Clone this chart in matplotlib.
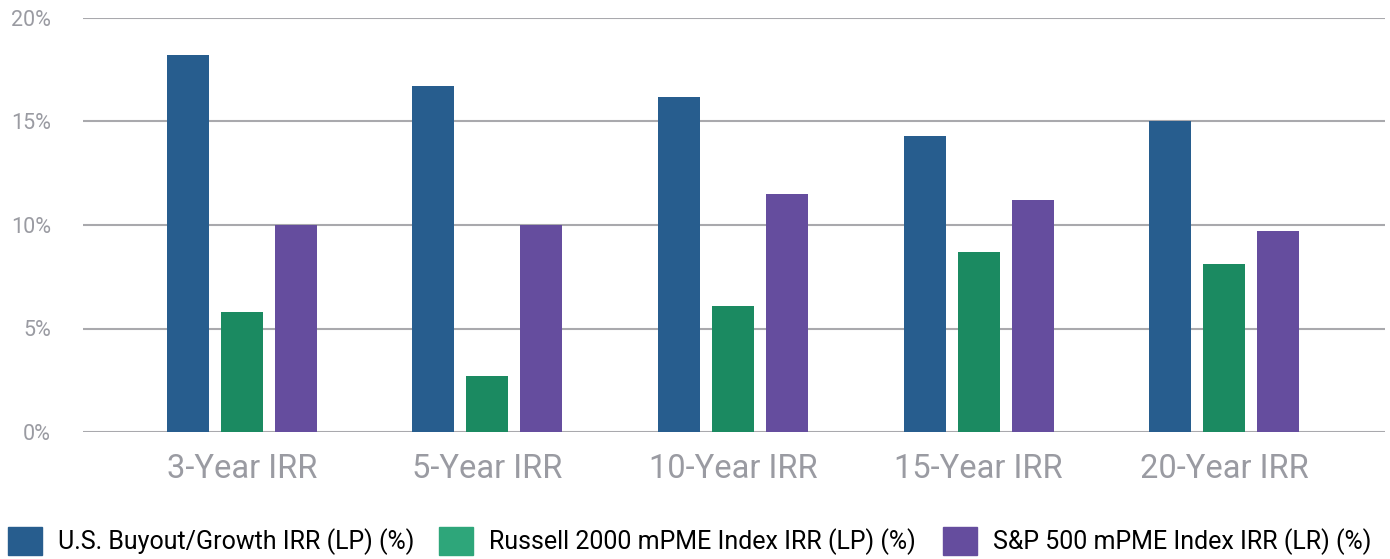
import matplotlib.pyplot as plt
import numpy as np
from matplotlib.patches import Patch

periods = ["3-Year IRR", "5-Year IRR", "10-Year IRR", "15-Year IRR", "20-Year IRR"]
buyout = [18.2, 16.7, 16.2, 14.3, 15.0]
russell = [5.8, 2.7, 6.1, 8.7, 8.1]
sp500 = [10.0, 10.0, 11.5, 11.2, 9.7]
series_names = ["U.S. Buyout/Growth IRR (LP) (%)",
                "Russell 2000 mPME Index IRR (LP) (%)",
                "S&P 500 mPME Index IRR (LR) (%)"]
yticks = [0, 5, 10, 15, 20]

blue = "#275d8e"
green = "#1b8a61"
purple = "#654d9e"
legend_green = "#2ea67a"
grid_c = "#a9a9ad"
label_c = "#9a9ba2"

fig = plt.figure(figsize=(13.9, 5.59), dpi=100)
ax = fig.add_axes([83 / 1390, 1 - 432 / 559, (1385 - 83) / 1390, (432 - 18) / 559])

x = np.arange(len(periods))
w = 0.171
off = 0.22
ax.bar(x - off, buyout, w, color=blue, zorder=3)
ax.bar(x, russell, w, color=green, zorder=3)
ax.bar(x + off, sp500, w, color=purple, zorder=3)

ax.set_xlim(-0.647, 4.655)
ax.set_ylim(0, 20)
ax.set_yticks(yticks)
ax.set_yticklabels([f"{v}%" for v in yticks])
ax.set_xticks(x)
ax.set_xticklabels(periods)
ax.grid(axis="y", color=grid_c, linewidth=1.5, zorder=0)
ax.set_axisbelow(True)
for s in ax.spines.values():
    s.set_visible(False)
ax.tick_params(axis="y", length=0, pad=23, labelsize=15.5, labelcolor=label_c)
ax.tick_params(axis="x", length=0, pad=15, labelsize=23.5, labelcolor=label_c)
for t in ax.get_xticklabels() + ax.get_yticklabels():
    t.set_family(["Roboto", "DejaVu Sans"])

# one legend per entry so each swatch sits where it does in the original
handles = [Patch(color=blue), Patch(color=legend_green), Patch(color=purple)]
lx = [8, 439, 943]
for h, name, px in zip(handles, series_names, lx):
    fig.legend([h], [name], loc="lower left", bbox_to_anchor=(px / 1390, 4 / 559),
               frameon=False, handlelength=1.36, handleheight=1.36,
               handletextpad=0.64, borderpad=0, borderaxespad=0,
               prop={"family": ["Roboto", "DejaVu Sans"], "size": 18})

fig.savefig("out.png", dpi=100)
